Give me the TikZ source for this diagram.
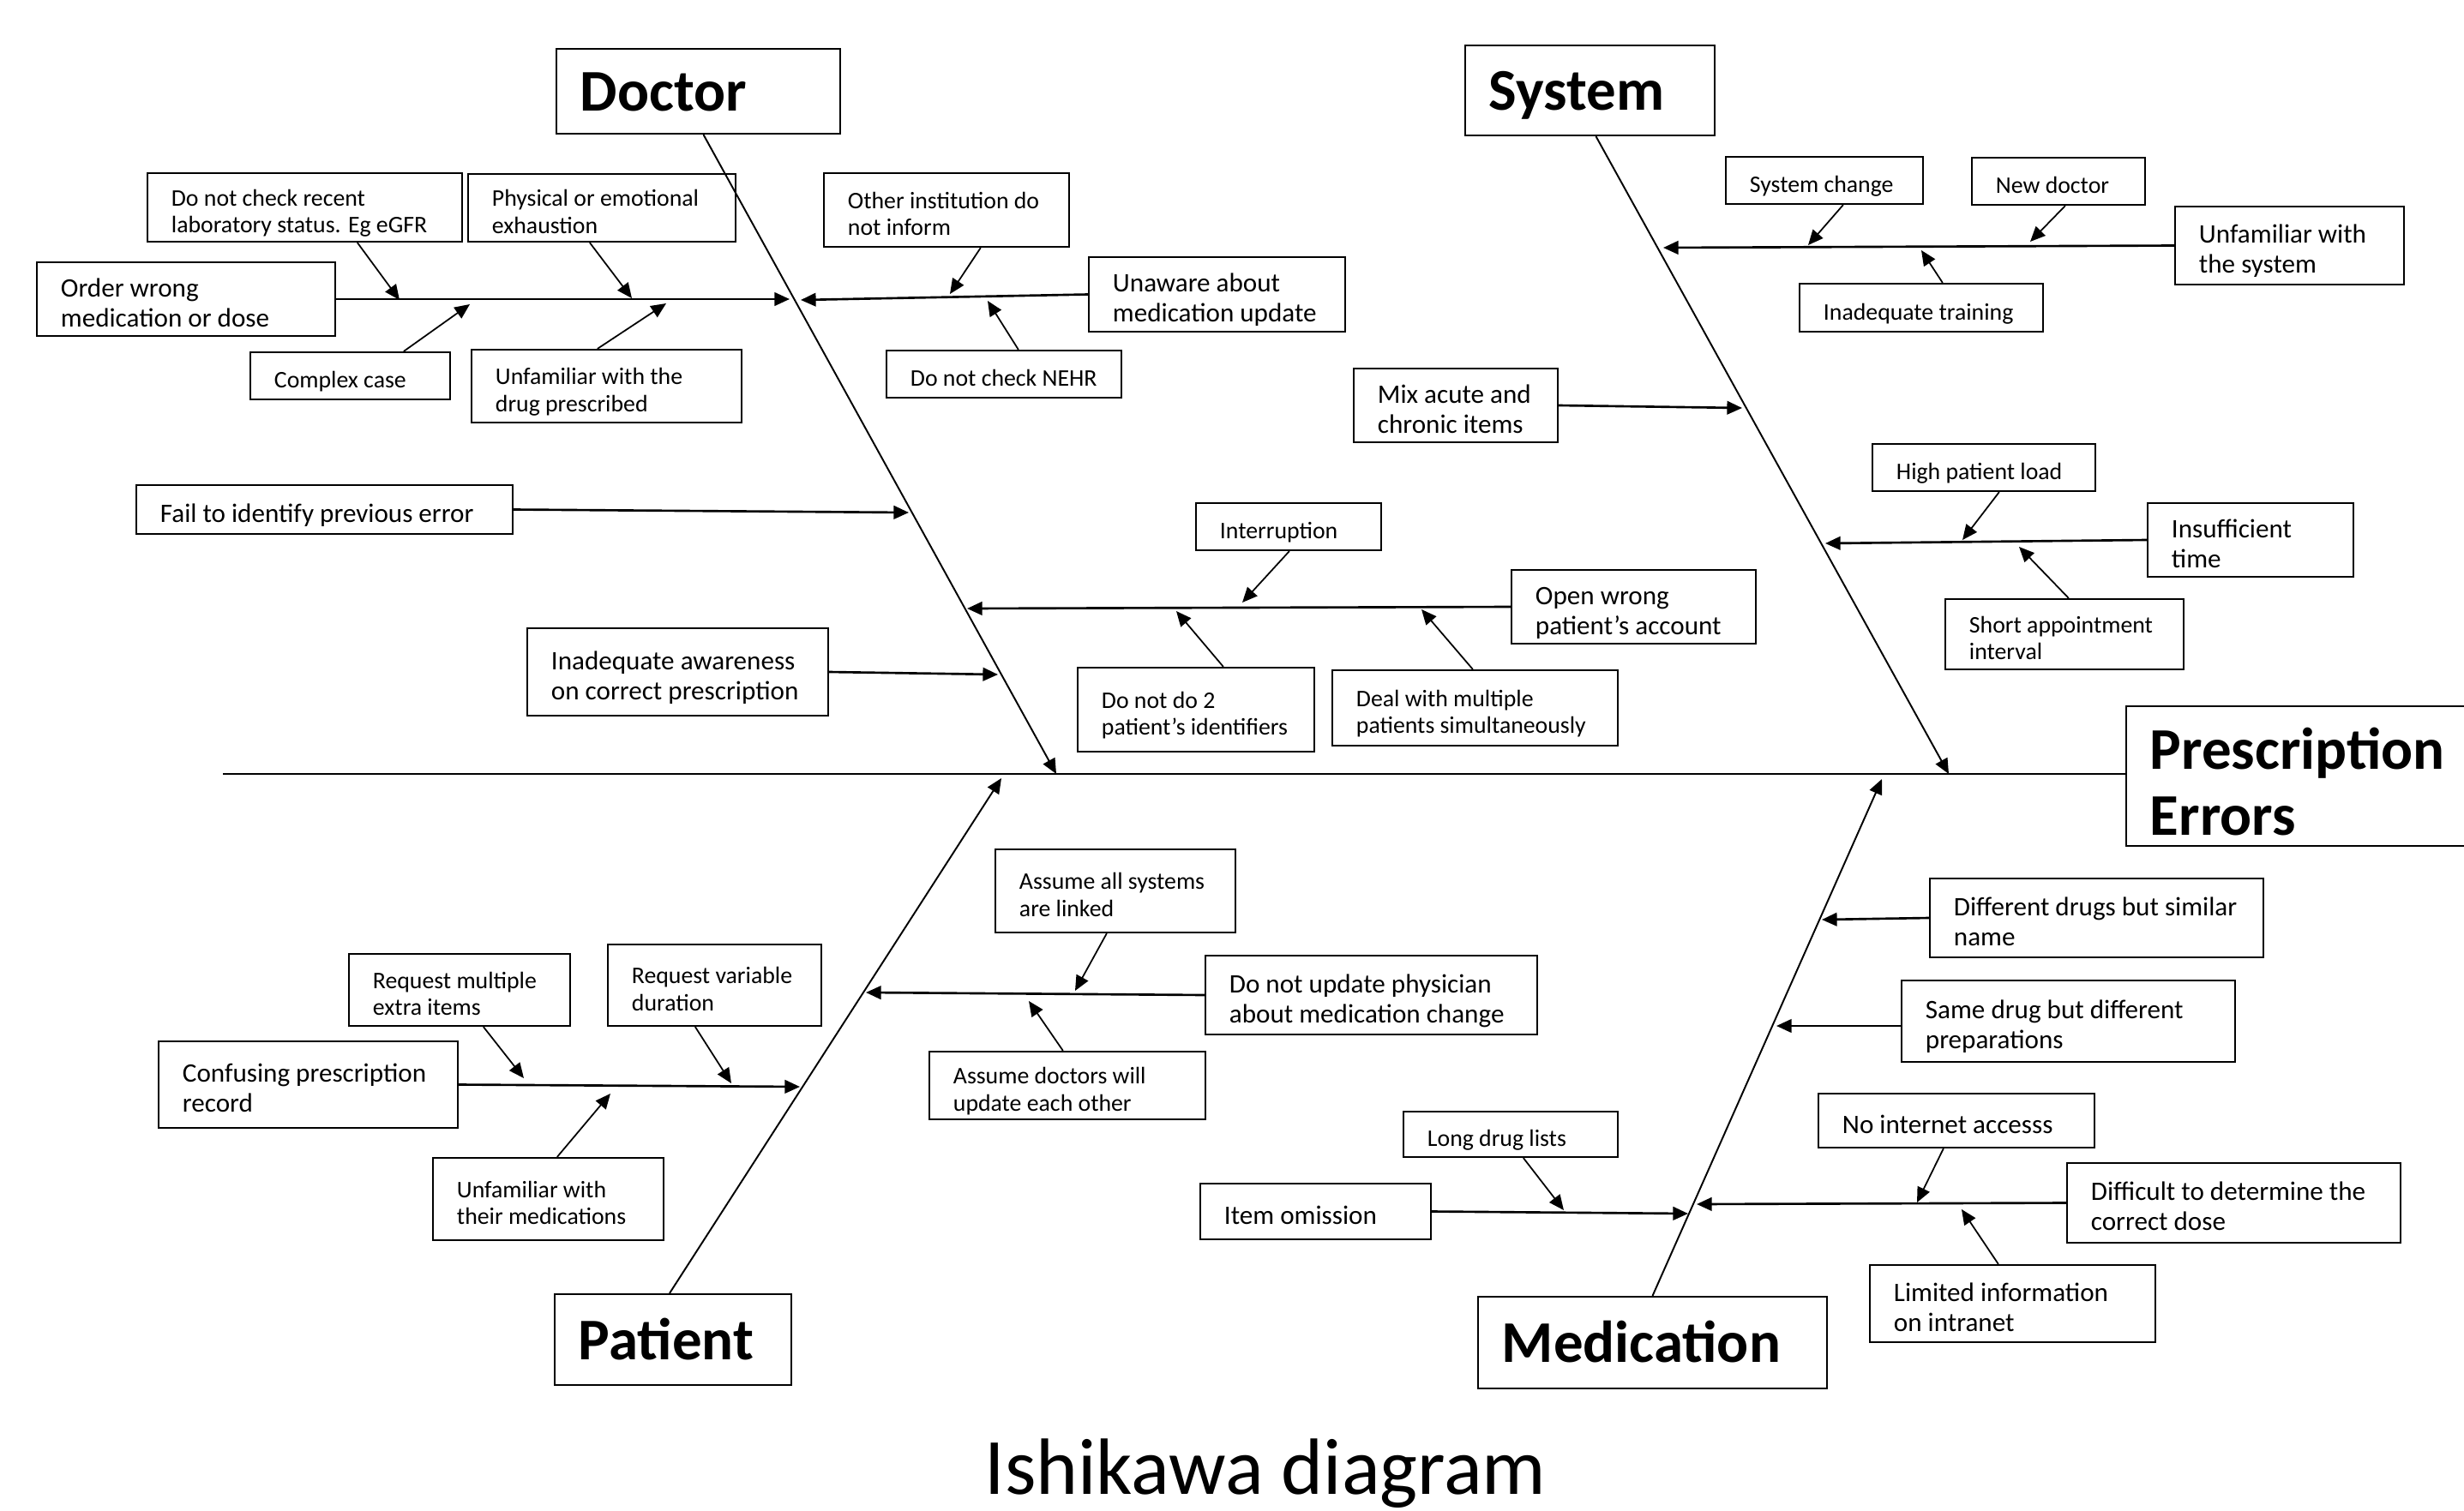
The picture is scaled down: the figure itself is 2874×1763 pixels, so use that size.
\documentclass[tikz,border=0pt]{standalone}
\usepackage{fontspec}
\setmainfont{Carlito}
\usetikzlibrary{arrows.meta,calc}
\newcommand\fishbox[7]{%
  \pgfmathsetmacro\fbw{(#4-#2)/100}%
  \pgfmathsetmacro\fbh{(#5-#3)/100}%
  \pgfmathsetmacro\fbt{(#4-#2)/100-0.56}%
  \node[box,#6,minimum width=\fbw cm,minimum height=\fbh cm] (#1) at ({(#2+#4)/2},{(#3+#5)/2})
    {\makebox[\fbt cm][l]{\raisebox{-\fbshift}[\height][\depth]{\begin{tabular}{@{}l@{}}#7\end{tabular}}}};}
\tikzset{
 tshift/.store in=\fbshift,
 box/.style={draw,line width=0.6pt,inner xsep=0.28cm,inner ysep=0pt,fill=white,tshift=2.2pt},
 sm/.style={font=\fontsize{7.9}{8.9}\selectfont},
 lg/.style={font=\fontsize{8.85}{9.9}\selectfont},
 ttl/.style={font=\bfseries\fontsize{19.6}{22}\selectfont,tshift=2.2pt},
 bone/.style={line width=0.55pt,-{Triangle[length=5pt,width=4.4pt]}},
 sub/.style={line width=0.75pt,-{Triangle[length=5pt,width=4.4pt]}},
 cause/.style={line width=0.5pt,-{Triangle[length=5pt,width=4.4pt]}},
}
\begin{document}
\begin{tikzpicture}[x=0.01cm,y=-0.01cm]
\useasboundingbox (0,0) rectangle (2874,1763);
\fill[white] (0,0) rectangle (2874,1763);

% ---------- main heads ----------
\fishbox{doc}{649}{57}{980}{156}{ttl}{Doctor}
\fishbox{sys}{1709}{53}{2000}{158}{ttl}{System}
\fishbox{pat}{647}{1510}{923}{1616}{ttl}{Patient}
\fishbox{med}{1724}{1513}{2131}{1620}{ttl}{Medication}
\fishbox{pe}{2480}{824}{2890}{987}{ttl,tshift=4.3pt}{Prescription\\Errors}

% ---------- Doctor ----------
\fishbox{d1}{172}{202}{539}{282}{sm}{Do not check recent\\laboratory status. Eg eGFR}
\fishbox{d2}{546}{203}{858}{282}{sm}{Physical or emotional\\exhaustion}
\fishbox{d3}{43}{306}{391}{392}{lg}{Order wrong\\medication or dose}
\fishbox{d4}{292}{411}{525}{466}{sm}{Complex case}
\fishbox{d5}{550}{408}{865}{493}{sm}{Unfamiliar with the\\drug prescribed}
\fishbox{d6}{961}{202}{1247}{288}{sm}{Other institution do\\not inform}
\fishbox{d7}{1270}{300}{1569}{387}{lg}{Unaware about\\medication update}
\fishbox{d8}{1034}{409}{1308}{464}{sm}{Do not check NEHR}
\fishbox{d9}{159}{566}{598}{623}{lg}{Fail to identify previous error}
\fishbox{d10}{1395}{587}{1611}{642}{sm}{Interruption}
\fishbox{d11}{1763}{665}{2048}{751}{lg}{Open wrong\\patient's account}
\fishbox{d12}{1257}{779}{1533}{877}{sm}{Do not do 2\\patient's identifiers}
\fishbox{d13}{1554}{782}{1887}{870}{sm}{Deal with multiple\\patients simultaneously}
\fishbox{d14}{615}{733}{966}{835}{lg}{Inadequate awareness\\on correct prescription}

% ---------- System ----------
\fishbox{s1}{2013}{183}{2243}{238}{sm}{System change}
\fishbox{s2}{2300}{184}{2502}{239}{sm}{New doctor}
\fishbox{s3}{2537}{241}{2804}{332}{lg}{Unfamiliar with\\the system}
\fishbox{s4}{2099}{331}{2383}{387}{sm}{Inadequate training}
\fishbox{s5}{1579}{430}{1817}{516}{lg}{Mix acute and\\chronic items}
\fishbox{s6}{2184}{518}{2444}{573}{sm}{High patient load}
\fishbox{s7}{2505}{587}{2745}{673}{lg}{Insufficient\\time}
\fishbox{s8}{2269}{699}{2547}{781}{sm}{Short appointment\\interval}

% ---------- Patient ----------
\fishbox{p1}{407}{1113}{665}{1197}{sm}{Request multiple\\extra items}
\fishbox{p2}{709}{1102}{958}{1197}{sm}{Request variable\\duration}
\fishbox{p3}{185}{1215}{534}{1316}{lg}{Confusing prescription\\record}
\fishbox{p4}{505}{1351}{774}{1447}{sm}{Unfamiliar with\\their medications}
\fishbox{p5}{1161}{991}{1441}{1088}{sm}{Assume all systems\\are linked}
\fishbox{p6}{1406}{1115}{1793}{1207}{lg}{Do not update physician\\about medication change}
\fishbox{p7}{1084}{1227}{1406}{1306}{sm}{Assume doctors will\\update each other}

% ---------- Medication ----------
\fishbox{m1}{2251}{1025}{2640}{1117}{lg}{Different drugs but similar\\name}
\fishbox{m2}{2218}{1144}{2607}{1239}{lg}{Same drug but different\\preparations}
\fishbox{m3}{1637}{1297}{1887}{1350}{sm}{Long drug lists}
\fishbox{m4}{1400}{1381}{1669}{1446}{lg}{Item omission}
\fishbox{m5}{2121}{1276}{2443}{1339}{lg}{No internet accesss}
\fishbox{m6}{2411}{1357}{2800}{1450}{lg}{Difficult to determine the\\correct dose}
\fishbox{m7}{2181}{1476}{2514}{1566}{lg}{Limited information\\on intranet}

% ---------- title ----------
\node[font=\fontsize{26.5}{30}\selectfont,anchor=base,inner sep=0pt] (title) at (1476,1743) {Ishikawa diagram};

% ---------- coordinates ----------
\coordinate (sp) at (260,903);
\coordinate (tdoc) at (1232,903);
\coordinate (tsys) at (2273,903);
\coordinate (tpat) at (1168,908);
\coordinate (tmed) at (2195,909);

\coordinate (td3) at (921,349);
\coordinate (td7) at (934,350);
\coordinate (td9) at (1060,598);
\coordinate (td11) at (1128,710);
\coordinate (td14) at (1164,787);
\coordinate (td1) at (466,350);
\coordinate (td2) at (737,348);
\coordinate (td4) at (548,355);
\coordinate (td5) at (777,354);
\coordinate (td6) at (1108,343);
\coordinate (td8) at (1152,351);
\coordinate (td10) at (1449,703);
\coordinate (td12) at (1372,713);
\coordinate (td13) at (1658,711);

\coordinate (ts3) at (1940,289);
\coordinate (ts5) at (2032,476);
\coordinate (ts7) at (2129,634);
\coordinate (ts1) at (2109,286);
\coordinate (ts2) at (2368,282);
\coordinate (ts4) at (2241,292);
\coordinate (ts6) at (2289,630);
\coordinate (ts8) at (2355,638);

\coordinate (tp3) at (933,1268);
\coordinate (tp6) at (1010,1158);
\coordinate (tp1) at (611,1258);
\coordinate (tp2) at (853,1264);
\coordinate (tp4) at (712,1276);
\coordinate (tp5) at (1254,1156);
\coordinate (tp7) at (1200,1168);

\coordinate (tm1) at (2125,1073);
\coordinate (tm2) at (2072,1197);
\coordinate (tm4) at (1969,1416);
\coordinate (tm6) at (1979,1405);
\coordinate (tm3) at (1824,1412);
\coordinate (tm5) at (2236,1403);
\coordinate (tm7) at (2288,1411);

% ---------- spine and bones ----------
\draw[line width=0.6pt] (sp) -- (pe.west |- sp);
\draw[bone] ($(doc.south)+(6,0)$) -- (tdoc);
\draw[bone] ($(sys.south)+(7,0)$) -- (tsys);
\draw[bone] ($(pat.north)+(-4,0)$) -- (tpat);
\draw[bone] (med.north) -- (tmed);

% ---------- Doctor connectors ----------
\draw[sub] (d3.east) -- (td3);
\draw[sub] (d7.west) -- (td7);
\draw[sub] (d9.east) -- (td9);
\draw[sub] (d11.west) -- (td11);
\draw[sub] (d14.east) -- (td14);
\draw[cause] ($(d1.south west)+(246,0)$) -- (td1);
\draw[cause] ($(d2.south west)+(143,0)$) -- (td2);
\draw[cause] ($(d4.north west)+(180,0)$) -- (td4);
\draw[cause] ($(d5.north west)+(148,0)$) -- (td5);
\draw[cause] ($(d6.south west)+(184,0)$) -- (td6);
\draw[cause] ($(d8.north west)+(155,0)$) -- (td8);
\draw[cause] ($(d10.south west)+(110,0)$) -- (td10);
\draw[cause] ($(d12.north west)+(171,0)$) -- (td12);
\draw[cause] ($(d13.north west)+(165,0)$) -- (td13);

% ---------- System connectors ----------
\draw[sub] (s3.west) -- (ts3);
\draw[sub] (s5.east) -- (ts5);
\draw[sub] (s7.west) -- (ts7);
\draw[cause] ($(s1.south west)+(138,0)$) -- (ts1);
\draw[cause] ($(s2.south west)+(110,0)$) -- (ts2);
\draw[cause] ($(s4.north west)+(168,0)$) -- (ts4);
\draw[cause] ($(s6.south west)+(149,0)$) -- (ts6);
\draw[cause] ($(s8.north west)+(145,0)$) -- (ts8);

% ---------- Patient connectors ----------
\draw[sub] (p3.east) -- (tp3);
\draw[sub] (p6.west) -- (tp6);
\draw[cause] ($(p1.south west)+(158,0)$) -- (tp1);
\draw[cause] ($(p2.south west)+(103,0)$) -- (tp2);
\draw[cause] ($(p4.north west)+(146,0)$) -- (tp4);
\draw[cause] ($(p5.south west)+(131,0)$) -- (tp5);
\draw[cause] ($(p7.north west)+(157,0)$) -- (tp7);

% ---------- Medication connectors ----------
\draw[sub] (m1.west) -- (tm1);
\draw[sub] (m2.west |- tm2) -- (tm2);
\draw[sub] (m4.east) -- (tm4);
\draw[sub] (m6.west) -- (tm6);
\draw[cause] ($(m3.south west)+(141,0)$) -- (tm3);
\draw[cause] ($(m5.south west)+(147,0)$) -- (tm5);
\draw[cause] ($(m7.north west)+(151,0)$) -- (tm7);
\end{tikzpicture}
\end{document}
